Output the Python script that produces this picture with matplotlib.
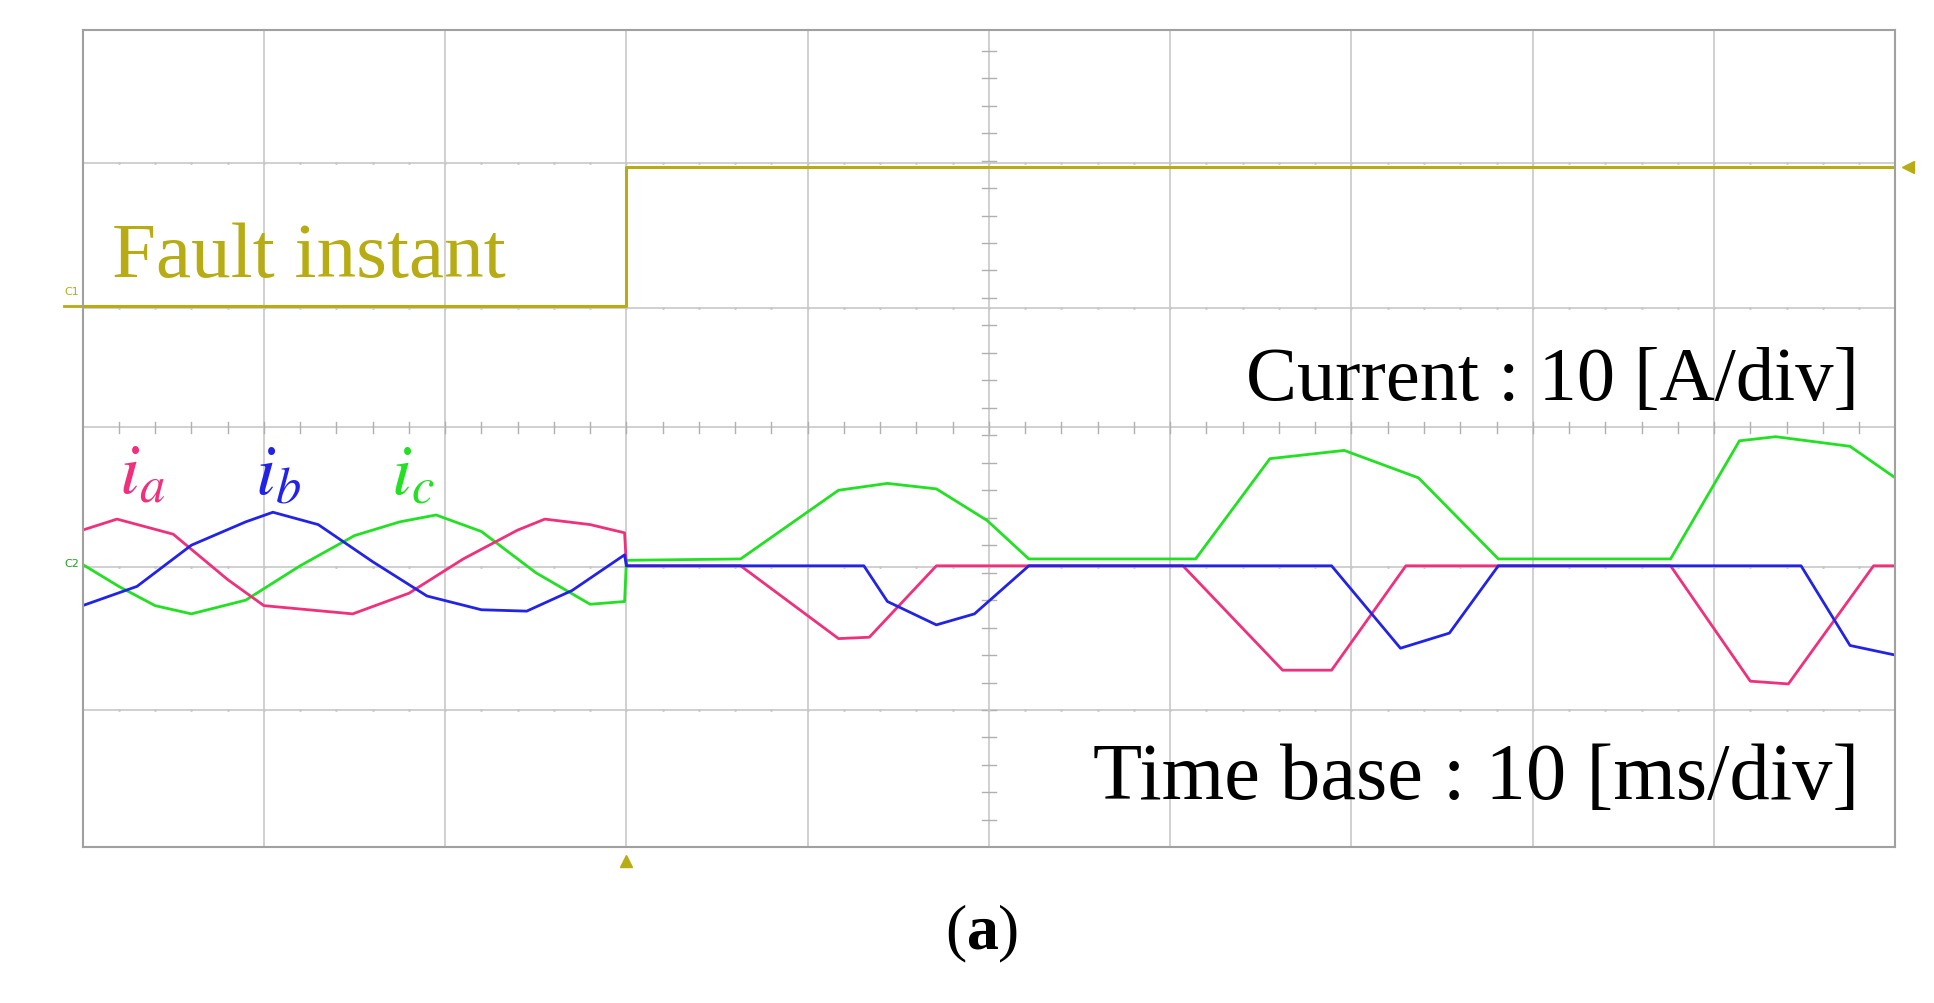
import matplotlib.pyplot as plt
import numpy as np

plt.rcParams['mathtext.fontset'] = 'stix'

# time in ms, current in A (10 A/div, 10 ms/div), trigger step in div
ia_t = [0, 1.9, 5, 8, 10, 14.9, 18, 21, 24, 25.5, 28, 29.9, 30, 36.3, 41.7, 43.4, 47.1, 60.7, 66.2, 68.9, 73.0, 87.6, 92.0, 94.1, 98.8, 100]
ia_v = [2.6, 3.4, 2.3, -1, -2.9, -3.5, -2.0, 0.5, 2.6, 3.4, 3.0, 2.4, 0, 0, -5.3, -5.2, 0, 0, -7.6, -7.6, 0, 0, -8.4, -8.6, 0, 0]
ib_t = [0, 3, 6, 9, 10.5, 13, 16, 19, 22, 24.5, 27, 29.9, 30, 43.1, 44.4, 47.1, 49.2, 52.2, 68.9, 72.7, 75.4, 78.1, 94.8, 97.5, 100]
ib_v = [-2.9, -1.5, 1.5, 3.2, 3.9, 3.0, 0.3, -2.2, -3.2, -3.3, -1.8, 0.8, 0, 0, -2.6, -4.3, -3.5, 0, 0, -6.0, -4.9, 0, 0, -5.8, -6.5]
ic_t = [0, 2, 4, 6, 9, 12, 15, 17.5, 19.5, 22, 25, 28, 29.9, 30, 36.3, 41.7, 44.4, 47.1, 49.9, 52.2, 61.4, 65.5, 69.6, 73.7, 78.1, 87.6, 91.4, 93.4, 97.5, 100]
ic_v = [0.1, -1.5, -2.9, -3.5, -2.5, 0, 2.2, 3.2, 3.7, 2.5, -0.5, -2.8, -2.6, 0.4, 0.5, 5.5, 6.0, 5.6, 3.3, 0.5, 0.5, 7.8, 8.4, 6.4, 0.5, 0.5, 9.1, 9.4, 8.7, 6.4]
c1_t = [0, 30, 30, 100]
c1_v = [3.94, 3.94, 4.95, 4.95]

zero_div = 2.05  # current zero level, div

fig = plt.figure(figsize=(19.34, 10.04), dpi=100)
ax = fig.add_axes([0.0427, 0.155, 0.9373, 0.814])
ax.set_xlim(0, 10)
ax.set_ylim(0, 5.95)
ax.set_xticks([]); ax.set_yticks([])
for s in ax.spines.values():
    s.set_color('#a0a0a0'); s.set_linewidth(1.5)

# grid
for x in np.arange(1, 10):
    ax.axvline(x, color='#c8c8c8', lw=1.2, zorder=0)
for y in [1.0, 2.04, 3.06, 3.93, 4.98]:
    ax.axhline(y, color='#c8c8c8', lw=1.2, zorder=0)
# center axes with small ticks
for x in np.arange(0.2, 10, 0.2):
    ax.plot([x, x], [3.06 - 0.04, 3.06 + 0.04], color='#b0b0b0', lw=1)
for y in np.arange(0.2, 6, 0.2):
    ax.plot([5 - 0.04, 5 + 0.04], [y, y], color='#b0b0b0', lw=1)
for y in [1.0, 2.04, 3.93, 4.98]:
    ax.plot(np.arange(0.2, 10, 0.2), [y] * 49, ls='none', marker='.', ms=2, color='#c8c8c8')

ax.plot(np.array(c1_t) / 10, c1_v, color='#b8ac14', lw=2.2)
ax.plot(np.array(ic_t) / 10, zero_div + np.array(ic_v) / 10, color='#22e022', lw=2)
ax.plot(np.array(ia_t) / 10, zero_div + np.array(ia_v) / 10, color='#f0307a', lw=2)
ax.plot(np.array(ib_t) / 10, zero_div + np.array(ib_v) / 10, color='#2222e8', lw=2)

serif = 'Liberation Serif'
ax.text(0.16, 4.3, 'Fault instant', color='#b8ac14', fontsize=57, family=serif, va='center')
ax.text(9.8, 3.4, 'Current : 10 [A/div]', color='black', fontsize=55, family=serif, ha='right', va='center')
ax.text(9.8, 0.5, 'Time base : 10 [ms/div]', color='black', fontsize=58, family=serif, ha='right', va='center')
ax.text(0.2, 2.72, r'$i_a$', color='#f0307a', fontsize=52, va='center')
ax.text(0.95, 2.72, r'$i_b$', color='#2222e8', fontsize=52, va='center')
ax.text(1.7, 2.72, r'$i_c$', color='#22e022', fontsize=52, va='center')

ax.text(-0.02, 4.03, 'C1', color='#b8ac14', fontsize=8, ha='right', clip_on=False)
ax.text(-0.02, 2.05, 'C2', color='#22a022', fontsize=8, ha='right', clip_on=False)
ax.plot([3.0], [-0.1], marker='^', ms=9, color='#b8ac14', clip_on=False)
ax.plot([10.07], [4.95], marker='<', ms=9, color='#b8ac14', clip_on=False)
ax.plot([-0.1, 0], [3.94, 3.94], color='#b8ac14', lw=2, clip_on=False)

fig.text(0.5, 0.07, '(', fontsize=46, family=serif, ha='right', va='center')
fig.text(0.5, 0.07, r'a', fontsize=46, family=serif, weight='bold', ha='left', va='center')
fig.text(0.516, 0.07, ')', fontsize=46, family=serif, ha='left', va='center')

fig.savefig('out.png', dpi=100)
